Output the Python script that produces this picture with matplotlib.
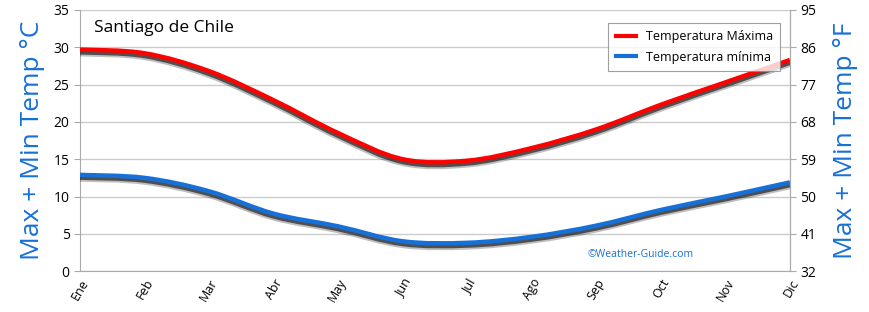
import numpy as np
import matplotlib
matplotlib.use("Agg")
import matplotlib.pyplot as plt
from matplotlib.path import Path
from matplotlib.patches import PathPatch
import matplotlib.patheffects as pe

months = ["Ene", "Feb", "Mar", "Abr", "May", "Jun", "Jul", "Ago", "Sep", "Oct", "Nov", "Dic"]
t_max = [29.7, 29.2, 26.8, 22.9, 18.5, 15.0, 14.8, 16.5, 19.0, 22.3, 25.3, 28.3]
t_min = [12.9, 12.5, 10.7, 7.7, 6.0, 4.0, 3.8, 4.6, 6.1, 8.2, 10.0, 11.9]
f_ticks = [32, 41, 50, 59, 68, 77, 86, 95]
c_ticks = [0, 5, 10, 15, 20, 25, 30, 35]

plt.rcParams['font.family'] = ['Open Sans', 'DejaVu Sans']

BLUE = "#1670d8"
RED = "#ff0000"

def smooth_path(x, y):
    x = np.asarray(x, float); y = np.asarray(y, float)
    verts = [(x[0], y[0])]
    codes = [Path.MOVETO]
    n = len(x)
    for i in range(n - 1):
        p0 = (x[i-1], y[i-1]) if i > 0 else (x[i], y[i])
        p1 = (x[i], y[i]); p2 = (x[i+1], y[i+1])
        p3 = (x[i+2], y[i+2]) if i + 2 < n else (x[i+1], y[i+1])
        c1 = (p1[0] + (p2[0]-p0[0])/6, p1[1] + (p2[1]-p0[1])/6)
        c2 = (p2[0] - (p3[0]-p1[0])/6, p2[1] - (p3[1]-p1[1])/6)
        verts += [c1, c2, p2]
        codes += [Path.CURVE4]*3
    return Path(verts, codes)

fig = plt.figure(figsize=(8.7, 3.12), dpi=100)
ax = fig.add_axes([0.092, 0.131, 0.816, 0.837])
x = np.arange(len(months))

for data, col, lab in [(t_max, RED, "Temperatura Máxima"), (t_min, BLUE, "Temperatura mínima")]:
    p = smooth_path(x, data)
    patch = PathPatch(p, facecolor='none', edgecolor=col, lw=3.2, capstyle='butt', zorder=3,
                      path_effects=[pe.SimpleLineShadow(offset=(0, -2.2), shadow_color='#000000', alpha=0.25, linewidth=5.5),
                                    pe.SimpleLineShadow(offset=(0, -2.0), shadow_color='#333333', alpha=0.8, linewidth=3.2),
                                    pe.Normal()])
    ax.add_patch(patch)
    ax.plot([], [], color=col, lw=3, label=lab)

ax.set_xlim(0, 11)
ax.set_ylim(0, 35)
ax.set_yticks(c_ticks)
ax.set_xticks(x)
ax.set_xticklabels(months, rotation=60, ha='right', rotation_mode='anchor', fontsize=9)
ax.tick_params(axis='y', labelsize=10, length=4, color='#aaaaaa')
ax.tick_params(axis='x', length=0, pad=4)
ax.grid(axis='y', color='#cccccc', lw=1)
ax.set_axisbelow(True)
ax.spines['top'].set_visible(False)
ax.spines['left'].set_color('#aaaaaa')
ax.spines['right'].set_color('#aaaaaa')
ax.spines['bottom'].set_color('#aaaaaa')
ax.set_ylabel("Max + Min Temp °C", color=BLUE, fontsize=19, labelpad=6)

ax2 = ax.twinx()
ax2.set_ylim(32, 95)
ax2.set_yticks(f_ticks)
ax2.tick_params(axis='y', labelsize=10, length=4, color='#aaaaaa')
for s in ['top', 'left', 'bottom']:
    ax2.spines[s].set_visible(False)
ax2.spines['right'].set_color('#aaaaaa')
ax2.set_ylabel("Max + Min Temp °F", color=BLUE, fontsize=19, labelpad=12)

ax.text(0.02, 0.93, "Santiago de Chile", transform=ax.transAxes, fontsize=12.5, va='center', ha='left')
ax.text(0.79, 0.065, "©Weather-Guide.com", transform=ax.transAxes, fontsize=7.5, color=BLUE, ha='center', va='center')
leg = ax.legend(loc='upper right', bbox_to_anchor=(0.995, 0.975), fontsize=9, frameon=True, fancybox=False,
                edgecolor='#888888', handlelength=1.6, borderpad=0.6, labelspacing=0.6)
leg.get_frame().set_linewidth(0.8)

fig.savefig("out.png", dpi=100)
